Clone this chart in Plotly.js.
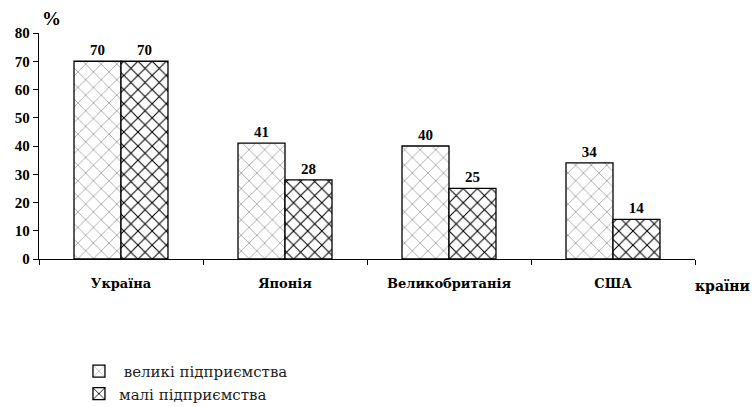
<!DOCTYPE html>
<html>
<head>
<meta charset="utf-8">
<script src="https://cdn.plot.ly/plotly-3.0.1.min.js"></script>
<style>html,body{margin:0;padding:0;background:#fff;}#chart{width:752px;height:407px;}</style>
</head>
<body>
<div id="chart"></div>
<script>
const countries = ["Україна", "Японія", "Великобританія", "США"];
const largeValues = [70, 41, 40, 34];
const smallValues = [70, 28, 25, 14];
const seriesNames = ["великі підприємства", "малі підприємства"];
const yTicks = [0, 10, 20, 30, 40, 50, 60, 70, 80];

const serif = "Liberation Serif";
const cyrSerif = "DejaVu Serif";

const traces = [
  {
    type: "bar", x: countries, y: largeValues, name: " " + seriesNames[0],
    text: largeValues.map(String), textposition: "outside", cliponaxis: false,
    textfont: {family: serif, size: 15, color: "#000", weight: "bold"},
    marker: {color: "#fff", line: {color: "#000", width: 1.3},
      pattern: {shape: "x", fgcolor: "#8a8a8a", bgcolor: "#fff", size: 11, solidity: 0.12}}
  },
  {
    type: "bar", x: countries, y: smallValues, name: seriesNames[1],
    text: smallValues.map(String), textposition: "outside", cliponaxis: false,
    textfont: {family: serif, size: 15, color: "#000", weight: "bold"},
    marker: {color: "#fff", line: {color: "#000", width: 1.3},
      pattern: {shape: "x", fgcolor: "#000", bgcolor: "#fff", size: 10, solidity: 0.2}}
  }
];

const layout = {
  width: 752, height: 407,
  margin: {l: 39, r: 57, t: 33, b: 148, pad: 0, autoexpand: false},
  paper_bgcolor: "#fff", plot_bgcolor: "#fff",
  barmode: "group", bargap: 0.427, bargroupgap: 0,
  showlegend: true,
  legend: {xref: "container", yref: "container", x: 0.105, y: 0.128,
    xanchor: "left", yanchor: "top", orientation: "v",
    font: {family: cyrSerif, size: 15, color: "#222"}, tracegroupgap: 0, itemwidth: 30,
    bgcolor: "rgba(0,0,0,0)"},
  font: {family: serif, color: "#000"},
  xaxis: {
    type: "category", showline: true, linecolor: "#000", linewidth: 1.3,
    ticks: "outside", tickson: "boundaries", ticklen: 5, tickcolor: "#000",
    tickfont: {family: cyrSerif, size: 13, color: "#000", weight: "bold"},
    ticklabelstandoff: 12, showgrid: false, zeroline: false, fixedrange: true, automargin: false
  },
  yaxis: {
    range: [0, 80], tickvals: yTicks, ticktext: yTicks.map(String),
    showline: true, linecolor: "#000", linewidth: 1.3,
    ticks: "outside", ticklen: 5, tickcolor: "#000",
    tickfont: {family: serif, size: 15, color: "#000", weight: "bold"},
    showgrid: false, zeroline: false, fixedrange: true, automargin: false
  },
  annotations: [
    {text: "%", xref: "paper", yref: "paper", x: 0, y: 1, xshift: 1, yshift: 2,
      xanchor: "left", yanchor: "bottom", showarrow: false,
      font: {family: serif, size: 19, color: "#000", weight: "bold"}},
    {text: "країни", xref: "paper", yref: "paper", x: 1, y: 0, xshift: 57, yshift: -17,
      xanchor: "right", yanchor: "top", showarrow: false,
      font: {family: cyrSerif, size: 14, color: "#000", weight: "bold"}}
  ]
};

Plotly.newPlot("chart", traces, layout, {displayModeBar: false, staticPlot: true});
</script>
</body>
</html>
